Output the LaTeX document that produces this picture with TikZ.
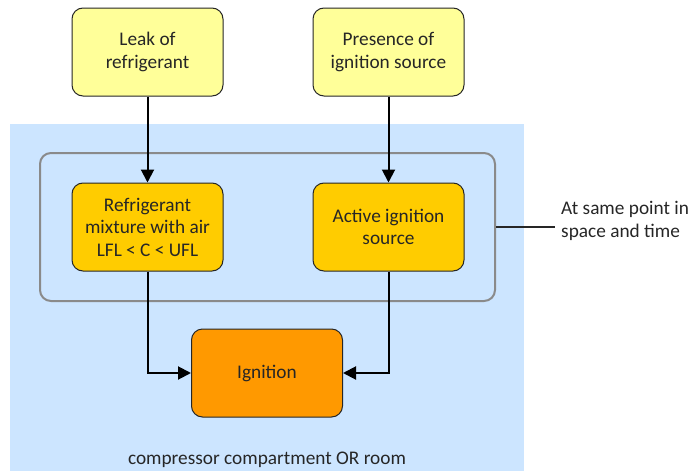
\documentclass[tikz,border=0pt]{standalone}
\usepackage{fontspec}
\setmainfont{Carlito}
\usetikzlibrary{arrows.meta}
\definecolor{zoneblue}{HTML}{CCE5FF}
\definecolor{paleyellow}{HTML}{FFFF99}
\definecolor{gold}{HTML}{FFCC00}
\definecolor{deeporange}{HTML}{FF9900}
\definecolor{framegrey}{HTML}{8A8A8A}
\definecolor{inkgrey}{HTML}{262626}
\tikzset{
  box/.style={draw=inkgrey, line width=1pt, rounded corners=11pt,
    minimum width=151pt, minimum height=88pt, align=center,
    text=inkgrey, font=\fontsize{19.3}{22.5}\selectfont, inner sep=0pt},
  flow/.style={draw=black, line width=2pt,
    -{Triangle[length=13pt,width=13pt]}},
  lbl/.style={text=inkgrey, font=\fontsize{19.3}{22.5}\selectfont, align=left}
}
\begin{document}
\begin{tikzpicture}[x=1pt,y=-1pt]
  \useasboundingbox (0,0) rectangle (691,471);
  % compartment background
  \fill[zoneblue] (10,124) rectangle (524,471);
  % common frame around the two conditions
  \node[draw=framegrey, line width=2pt, rounded corners=11pt,
        minimum width=455pt, minimum height=148pt, inner sep=0pt]
        (frame) at (267.5,227) {};
  % boxes
  \node[box, fill=paleyellow] (leak) at (147.5,52) {Leak of\\refrigerant};
  \node[box, fill=paleyellow] (source) at (388.5,52) {Presence of\\ignition source};
  \node[box, fill=gold] (mix) at (147.5,227) {Refrigerant\\mixture with air\\LFL < C < UFL};
  \node[box, fill=gold] (active) at (388.5,227) {Active ignition\\source};
  \node[box, fill=deeporange] (ign) at (267,373) {Ignition};
  % side note
  \coordinate (noteend) at (555,227);
  \draw[draw=inkgrey, line width=1.3pt] (frame.east) -- (noteend);
  \node[lbl, anchor=west, inner sep=0pt] (note) at (561,221) {At same point in\\space and time};
  % room label
  \node[lbl, inner sep=0pt] (room) at (267,460) {compressor compartment OR room};
  % connectors
  \draw[flow] (leak.south) -- (mix.north);
  \draw[flow] (source.south) -- (active.north);
  \draw[flow] (mix.south) |- (ign.west);
  \draw[flow] (active.south) |- (ign.east);
\end{tikzpicture}
\end{document}
